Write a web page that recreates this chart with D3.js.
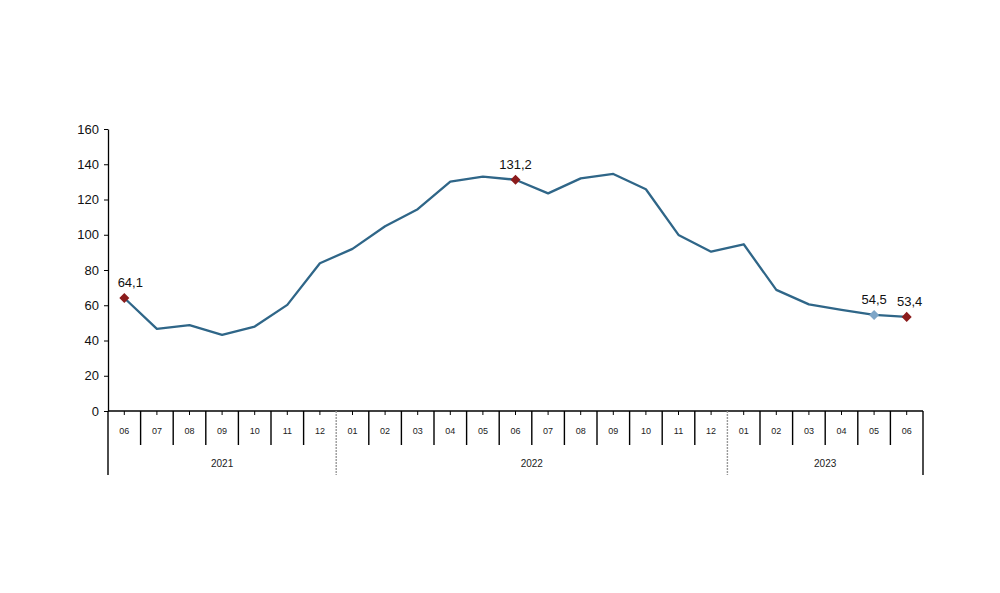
<!DOCTYPE html>
<html>
<head>
<meta charset="utf-8">
<script src="https://cdn.jsdelivr.net/npm/d3@7"></script>
<style>
	body { margin: 0; background: #fff; }
	text { font-family: "Liberation Sans", Arial, sans-serif; }
</style>
</head>
<body>
<div id="main"></div>
<script>
const months = ["06", "07", "08", "09", "10", "11", "12",
	"01", "02", "03", "04", "05", "06", "07", "08", "09", "10", "11", "12",
	"01", "02", "03", "04", "05", "06"];
const years = ["2021", "2022", "2023"];
const yearOf = [0, 0, 0, 0, 0, 0, 0,
	1, 1, 1, 1, 1, 1, 1, 1, 1, 1, 1, 1,
	2, 2, 2, 2, 2, 2];
const values = [64.1, 46.6, 48.7, 43.2, 47.9, 60.2, 83.8,
	92.0, 104.8, 114.5, 130.1, 133.0, 131.2, 123.5, 132.0, 134.5, 125.8, 99.9, 90.4,
	94.6, 68.7, 60.5, 57.4, 54.5, 53.4];
const yTicks = [0, 20, 40, 60, 80, 100, 120, 140, 160];
// which points get a marker + label
const marked = [
	{ i: 0, color: "#8b1c1c", label: "64,1", dx: 6 },
	{ i: 12, color: "#8b1c1c", label: "131,2", dx: 0 },
	{ i: 23, color: "#7ea6c8", label: "54,5", dx: 0 },
	{ i: 24, color: "#8b1c1c", label: "53,4", dx: 3 },
];

const width = 1000, height = 593;
const padL = 108, padR = 923, padT = 129, padB = 411;

const svg = d3.select("#main").append("svg")
	.attr("width", width)
	.attr("height", height);

const x = d3.scaleBand()
	.domain(d3.range(months.length))
	.range([padL, padR]);
const cx = (i) => x(i) + x.bandwidth() / 2;

const y = d3.scaleLinear()
	.domain([0, 160])
	.range([padB, padT]);

// y axis
const yAxis = svg.append("g")
	.attr("transform", `translate(${padL},0)`)
	.call(d3.axisLeft(y).tickValues(yTicks).tickSize(4).tickSizeOuter(0));
yAxis.select(".domain").attr("stroke", "#000").attr("stroke-width", 1.3);
yAxis.selectAll(".tick line").attr("stroke", "#000");
yAxis.selectAll(".tick text")
	.attr("x", -9)
	.style("font-size", "13px")
	.attr("fill", "#111");

// x axis line
svg.append("line")
	.attr("x1", padL).attr("x2", padR)
	.attr("y1", padB).attr("y2", padB)
	.attr("stroke", "#000").attr("stroke-width", 1.3);

// small center ticks
svg.append("g").selectAll("line")
	.data(months)
	.join("line")
	.attr("x1", (d, i) => cx(i)).attr("x2", (d, i) => cx(i))
	.attr("y1", padB).attr("y2", padB + 4)
	.attr("stroke", "#000");

// separators between months
const seps = d3.range(1, months.length);
const isYearEdge = (i) => yearOf[i] !== yearOf[i - 1];
svg.append("g").selectAll("line")
	.data(seps)
	.join("line")
	.attr("x1", (i) => x(i)).attr("x2", (i) => x(i))
	.attr("y1", padB)
	.attr("y2", (i) => (isYearEdge(i) ? 475 : 445))
	.attr("stroke", (i) => (isYearEdge(i) ? "#999" : "#000"))
	.attr("stroke-dasharray", (i) => (isYearEdge(i) ? "2,1" : null))
	.attr("stroke-width", 1.4);

// outer edges
[padL, padR].forEach((xx) => {
	svg.append("line")
		.attr("x1", xx).attr("x2", xx)
		.attr("y1", padB).attr("y2", 475)
		.attr("stroke", "#000").attr("stroke-width", 1.4);
});

// month labels
svg.append("g").selectAll("text")
	.data(months)
	.join("text")
	.attr("x", (d, i) => cx(i))
	.attr("y", 434)
	.attr("text-anchor", "middle")
	.style("font-size", "9px")
	.attr("fill", "#222")
	.text((d) => d);

// year labels
svg.append("g").selectAll("text")
	.data(years)
	.join("text")
	.attr("x", (d, k) => {
		const idx = d3.range(months.length).filter((i) => yearOf[i] === k);
		return (x(idx[0]) + x(idx[idx.length - 1]) + x.bandwidth()) / 2;
	})
	.attr("y", 467)
	.attr("text-anchor", "middle")
	.style("font-size", "10px")
	.attr("fill", "#222")
	.text((d) => d);

// line
const line = d3.line()
	.x((d, i) => cx(i))
	.y((d) => y(d));
svg.append("path")
	.datum(values)
	.attr("d", line)
	.attr("fill", "none")
	.attr("stroke", "#2f6688")
	.attr("stroke-width", 2.3)
	.attr("stroke-linejoin", "round");

// markers + labels
svg.append("g").selectAll("path")
	.data(marked)
	.join("path")
	.attr("transform", (d) => `translate(${cx(d.i)},${y(values[d.i])})`)
	.attr("d", d3.symbol(d3.symbolDiamond2, 64))
	.attr("fill", (d) => d.color);

svg.append("g").selectAll("text")
	.data(marked)
	.join("text")
	.attr("x", (d) => cx(d.i) + d.dx)
	.attr("y", (d) => y(values[d.i]) - 11)
	.attr("text-anchor", "middle")
	.style("font-size", "13px")
	.attr("fill", "#111")
	.text((d) => d.label);
</script>
</body>
</html>
